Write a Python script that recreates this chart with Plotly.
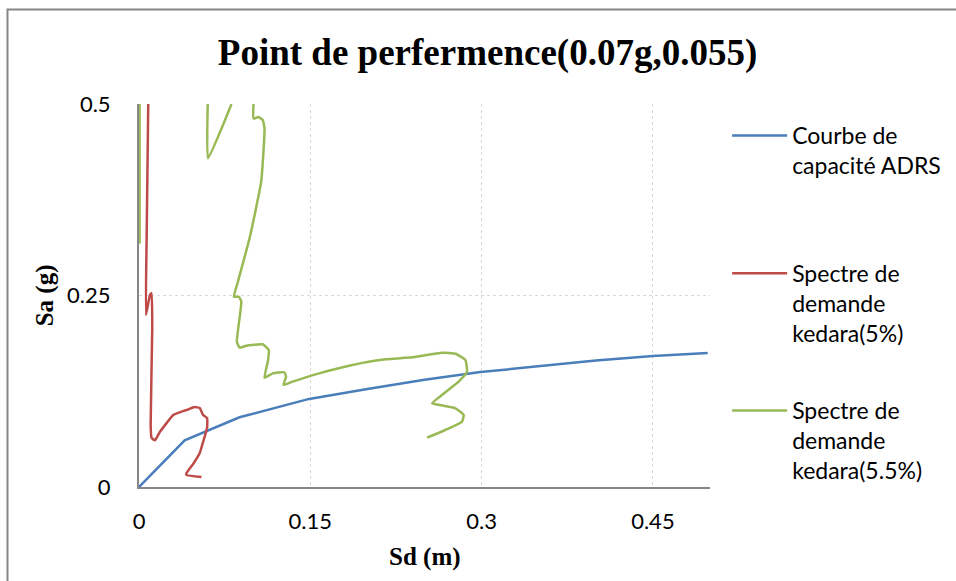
import plotly.graph_objects as go

# Capacity curve in ADRS format (Sd in m, Sa in g)
capacite_sd = [0.0, 0.040, 0.088, 0.149, 0.20, 0.25, 0.299, 0.35, 0.40, 0.45, 0.498]
capacite_sa = [0.0, 0.061, 0.091, 0.115, 0.128, 0.140, 0.150, 0.158, 0.165, 0.171, 0.175]

# Demand spectrum, 5 % damping
kedara5_sd = [0.0081, 0.0067, 0.0061, 0.0096, 0.0110, 0.0116, 0.0102, 0.0110, 0.0140,
              0.0183, 0.0300, 0.0340, 0.0416, 0.0488, 0.0532, 0.0561, 0.0596, 0.0596,
              0.0561, 0.0532, 0.0508, 0.0480, 0.0416, 0.0416, 0.0547]
kedara5_sa = [0.500, 0.325, 0.2245, 0.2507, 0.253, 0.2076, 0.081, 0.064, 0.061,
              0.072, 0.094, 0.0966, 0.1005, 0.1044, 0.103, 0.094, 0.090, 0.077,
              0.0587, 0.0444, 0.0379, 0.0313, 0.0183, 0.0157, 0.0131]

# Demand spectrum, 5.5 % damping (None = leaves the visible window)
kedara55_sd = [0.0005, 0.0005, None,
               0.0602, 0.0604, 0.0810, None,
               0.1003, 0.1003, 0.1046, 0.1084, 0.1099, 0.1070, 0.0968, 0.0866, 0.0831,
               0.0875, 0.0896, 0.0857, 0.0881, 0.0939, 0.1084, 0.1136, 0.1128, 0.1099,
               0.1171, 0.1273, 0.1288, 0.1265, 0.1346, 0.1578, 0.1869, 0.2160, 0.2392,
               0.2654, 0.2771, 0.2858, 0.2872, 0.2799, 0.2566, 0.2596, 0.2771, 0.2843,
               0.2828, 0.2683, 0.2523]
kedara55_sa = [0.318, 0.500, None,
               0.500, 0.429, 0.500, None,
               0.500, 0.481, 0.483, 0.479, 0.468, 0.3986, 0.3247, 0.268, 0.2484,
               0.2484, 0.2419, 0.1897, 0.1819, 0.1845, 0.1863, 0.1789, 0.1636, 0.1427,
               0.1484, 0.1497, 0.144, 0.1332, 0.1375, 0.1484, 0.1593, 0.1667, 0.1693,
               0.1753, 0.174, 0.1658, 0.1505, 0.1375, 0.1093, 0.108, 0.1027, 0.094,
               0.0852, 0.0744, 0.0644]

x_ticks = [0, 0.15, 0.3, 0.45]
y_ticks = [0, 0.25, 0.5]

BLUE = "#4A7EBB"
RED = "#BE4B48"
GREEN = "#98B954"
AXIS = "#868686"
GRID = "#D9D9D9"
SANS = "Lato, 'Open Sans', sans-serif"
SERIF = "'Liberation Serif', 'Times New Roman', serif"

fig = go.Figure()
fig.add_trace(go.Scatter(x=capacite_sd, y=capacite_sa, mode="lines",
                         name="Courbe de<br>capacité ADRS",
                         line=dict(color=BLUE, width=2.5), legend="legend"))
fig.add_trace(go.Scatter(x=kedara5_sd, y=kedara5_sa, mode="lines",
                         name="Spectre de<br>demande<br>kedara(5%)",
                         line=dict(color=RED, width=2.5, shape="spline", smoothing=0.4),
                         legend="legend2"))
fig.add_trace(go.Scatter(x=kedara55_sd, y=kedara55_sa, mode="lines",
                         name="Spectre de<br>demande<br>kedara(5.5%)", connectgaps=False,
                         line=dict(color=GREEN, width=2.5, shape="spline", smoothing=0.4),
                         legend="legend3"))

legend_style = dict(font=dict(family=SANS, size=23, color="#000000"),
                    xanchor="left", yanchor="top", x=1.03,
                    bgcolor="rgba(0,0,0,0)", itemwidth=55, valign="top")

fig.update_layout(
    width=956, height=581,
    margin=dict(l=139, r=246, t=104, b=94, autoexpand=False),
    paper_bgcolor="white", plot_bgcolor="white",
    title=dict(text="<b>Point de perfermence(0.07g,0.055)</b>",
               font=dict(family=SERIF, size=37, color="#000000"),
               x=0.51, xref="container", xanchor="center",
               y=0.91, yref="container", yanchor="middle"),
    xaxis=dict(range=[0, 0.5], tickvals=x_ticks, ticktext=[f"{v:g}" for v in x_ticks],
               showgrid=True, gridcolor=GRID, griddash="dot", gridwidth=1,
               showline=True, linecolor=AXIS, linewidth=2, zeroline=False,
               ticks="", ticklabelstandoff=14,
               tickfont=dict(family=SANS, size=22, color="#000000")),
    yaxis=dict(range=[0, 0.5], tickvals=y_ticks, ticktext=[f"{v:g}" for v in y_ticks],
               showgrid=True, gridcolor=GRID, griddash="dot", gridwidth=1,
               showline=True, linecolor=AXIS, linewidth=2, zeroline=False,
               ticks="", ticklabelstandoff=22,
               tickfont=dict(family=SANS, size=22, color="#000000")),
    legend=dict(**legend_style, y=0.974),
    legend2=dict(**legend_style, y=0.614),
    legend3=dict(**legend_style, y=0.256),
    annotations=[
        dict(text="<b>Sd (m)</b>", xref="paper", yref="paper", x=0.5, y=-0.183,
             xanchor="center", yanchor="middle", showarrow=False,
             font=dict(family=SERIF, size=25, color="#000000")),
        dict(text="<b>Sa (g)</b>", xref="paper", yref="paper", x=-0.165, y=0.5,
             xanchor="center", yanchor="middle", showarrow=False, textangle=-90,
             font=dict(family=SERIF, size=25, color="#000000")),
    ],
    shapes=[
        # outer chart frame
        dict(type="rect", xref="paper", yref="paper",
             x0=-0.2303, x1=1.45, y0=-0.3, y1=1.2467,
             line=dict(color=AXIS, width=2), fillcolor="rgba(0,0,0,0)", layer="below"),
    ],
    showlegend=True,
)

fig.write_html("out.html")
